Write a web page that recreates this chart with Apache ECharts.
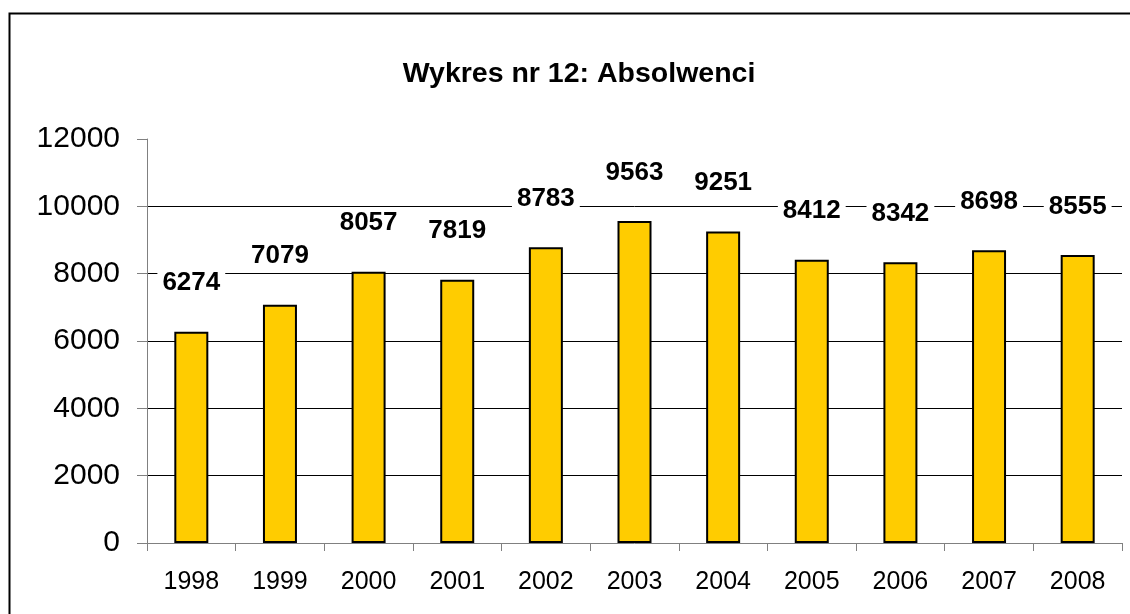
<!DOCTYPE html>
<html>
<head>
<meta charset="utf-8">
<script src="https://cdn.jsdelivr.net/npm/echarts@6/dist/echarts.min.js"></script>
<style>html,body{margin:0;padding:0;background:#fff;}#c{width:1130px;height:614px;}</style>
</head>
<body>
<div id="c"></div>
<script>
const titleText = 'Wykres nr 12: Absolwenci';
const years = ['1998','1999','2000','2001','2002','2003','2004','2005','2006','2007','2008'];
const graduates = [6274, 7079, 8057, 7819, 8783, 9563, 9251, 8412, 8342, 8698, 8555];
const yMin = 0, yMax = 12000, yStep = 2000;

const font = 'Liberation Sans, Arial, sans-serif';
const chart = echarts.init(document.getElementById('c'), null, {renderer: 'canvas'});
chart.setOption({
  animation: false,
  backgroundColor: '#fff',
  graphic: [{
    type: 'rect', left: 7, top: 11, z: 100,
    shape: {x: 0, y: 0, width: 1200, height: 700},
    style: {fill: 'none', stroke: '#000', lineWidth: 2}
  }],
  title: {
    text: titleText, left: 574, top: 55, textAlign: 'center',
    textStyle: {fontFamily: font, fontSize: 28.5, fontWeight: 'bold', color: '#000'}
  },
  grid: {left: 147, right: 8, top: 139, bottom: 71, containLabel: false},
  xAxis: {
    type: 'category', data: years,
    axisLine: {lineStyle: {color: '#808080', width: 1}},
    axisTick: {show: true, alignWithLabel: false, length: 8, lineStyle: {color: '#808080'}},
    axisLabel: {fontFamily: font, fontSize: 25, color: '#000', margin: 27, lineHeight: 25}
  },
  yAxis: {
    type: 'value', min: yMin, max: yMax, interval: yStep,
    axisLine: {show: true, lineStyle: {color: '#808080', width: 1}},
    axisTick: {show: true, length: 10, lineStyle: {color: '#808080'}},
    axisLabel: {fontFamily: font, fontSize: 30, color: '#000', margin: 27,
      formatter: function (v) { return String(v); }},
    splitLine: {show: true, showMaxLine: false, showMinLine: false,
      lineStyle: {color: ['#000','#000','#000','#000','#000','#000','rgba(0,0,0,0)'], width: 1}}
  },
  series: [{
    type: 'bar', data: graduates, barWidth: 34,
    itemStyle: {color: '#FFCC00', borderColor: '#000', borderWidth: 2},
    label: {
      show: true, position: 'top', distance: 34,
      fontFamily: font, fontSize: 26, fontWeight: 'bold', color: '#000',
      backgroundColor: '#fff', padding: [1, 5], lineHeight: 27
    }
  }]
});
</script>
</body>
</html>
